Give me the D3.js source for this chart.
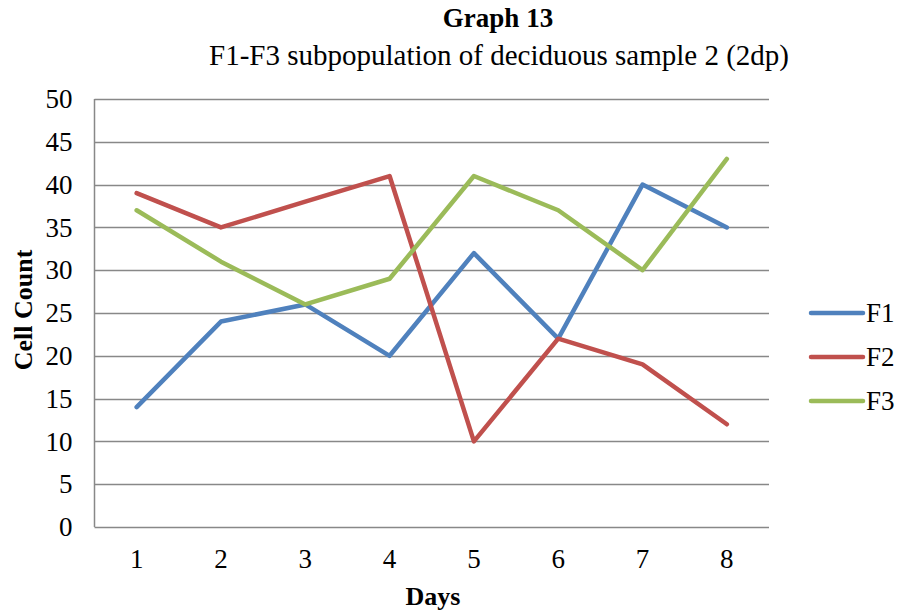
<!DOCTYPE html>
<html>
<head>
<meta charset="utf-8">
<script src="https://cdn.jsdelivr.net/npm/d3@7"></script>
<style>
  html, body { margin: 0; padding: 0; background: #fff; }
  svg text { font-family: "Liberation Serif", "Times New Roman", serif; fill: #000; }
</style>
</head>
<body>
<svg id="chart" width="901" height="615"></svg>
<script>
// Days sampled and cell counts per subpopulation
const days = [1, 2, 3, 4, 5, 6, 7, 8];
const f1 = [14, 24, 26, 20, 32, 22, 40, 35];
const f2 = [39, 35, 38, 41, 10, 22, 19, 12];
const f3 = [37, 31, 26, 29, 41, 37, 30, 43];
const seriesNames = ["F1", "F2", "F3"];
const seriesColors = ["#4F81BD", "#C0504D", "#9BBB59"];
const yTicks = [0, 5, 10, 15, 20, 25, 30, 35, 40, 45, 50];

const series = [f1, f2, f3].map((vals, i) => ({
  name: seriesNames[i],
  color: seriesColors[i],
  values: vals.map((v, j) => ({ day: days[j], value: v }))
}));

const serif = '"Liberation Serif", "Times New Roman", serif';
const svg = d3.select("#chart");
const plot = { left: 94.5, right: 769, top: 99, bottom: 527 };

const x = d3.scaleBand().domain(days).range([plot.left, plot.right]);
const y = d3.scaleLinear().domain([0, 50]).range([plot.bottom, plot.top]);

// Horizontal gridlines
svg.append("g")
  .selectAll("line")
  .data(yTicks)
  .join("line")
  .attr("x1", plot.left)
  .attr("x2", plot.right)
  .attr("y1", d => Math.round(y(d)) + 0.5)
  .attr("y2", d => Math.round(y(d)) + 0.5)
  .attr("stroke", "#888")
  .attr("stroke-width", 1.5);

// Vertical axis line
svg.append("line")
  .attr("x1", plot.left).attr("x2", plot.left)
  .attr("y1", plot.top).attr("y2", plot.bottom)
  .attr("stroke", "#888").attr("stroke-width", 1.5);

// Y axis labels
const yAxis = d3.axisLeft(y).tickValues(yTicks).tickSize(0).tickPadding(22);
const gy = svg.append("g").attr("transform", `translate(${plot.left},0)`).call(yAxis);
gy.attr("font-family", null).attr("font-size", null);
gy.select(".domain").remove();
gy.selectAll("text")
  .style("font-family", serif)
  .style("font-size", "27px")
  .attr("fill", "#000");

// X axis labels
const xAxis = d3.axisBottom(x).tickSize(0).tickPadding(22);
const gx = svg.append("g").attr("transform", `translate(0,${plot.bottom})`).call(xAxis);
gx.attr("font-family", null).attr("font-size", null);
gx.select(".domain").remove();
gx.selectAll("text")
  .style("font-family", serif)
  .style("font-size", "27px")
  .attr("fill", "#000");

// Series lines
const line = d3.line()
  .x(d => x(d.day) + x.bandwidth() / 2)
  .y(d => y(d.value));

svg.append("g")
  .selectAll("path")
  .data(series)
  .join("path")
  .attr("d", d => line(d.values))
  .attr("fill", "none")
  .attr("stroke", d => d.color)
  .attr("stroke-width", 4.5)
  .attr("stroke-linejoin", "round")
  .attr("stroke-linecap", "round");

// Titles
svg.append("text")
  .attr("x", 498).attr("y", 27)
  .attr("text-anchor", "middle")
  .style("font-family", serif)
  .style("font-size", "27px").style("font-weight", "bold")
  .text("Graph 13");
svg.append("text")
  .attr("x", 499).attr("y", 65)
  .attr("text-anchor", "middle")
  .style("font-family", serif)
  .style("font-size", "29px")
  .text("F1-F3 subpopulation of deciduous sample 2 (2dp)");

svg.append("text")
  .attr("x", 433).attr("y", 605)
  .attr("text-anchor", "middle")
  .style("font-family", serif)
  .style("font-size", "26px").style("font-weight", "bold")
  .text("Days");

svg.append("text")
  .attr("transform", "translate(32,310) rotate(-90)")
  .attr("text-anchor", "middle")
  .style("font-family", serif)
  .style("font-size", "26px").style("font-weight", "bold")
  .text("Cell Count");

// Legend
const legend = svg.append("g")
  .selectAll("g")
  .data(series)
  .join("g")
  .attr("transform", (d, i) => `translate(811,${313 + i * 44})`);
legend.append("line")
  .attr("x1", 0).attr("x2", 52)
  .attr("stroke", d => d.color)
  .attr("stroke-width", 4.5)
  .attr("stroke-linecap", "round");
legend.append("text")
  .attr("x", 55).attr("y", 9)
  .style("font-family", serif)
  .style("font-size", "27px")
  .text(d => d.name);
</script>
</body>
</html>
